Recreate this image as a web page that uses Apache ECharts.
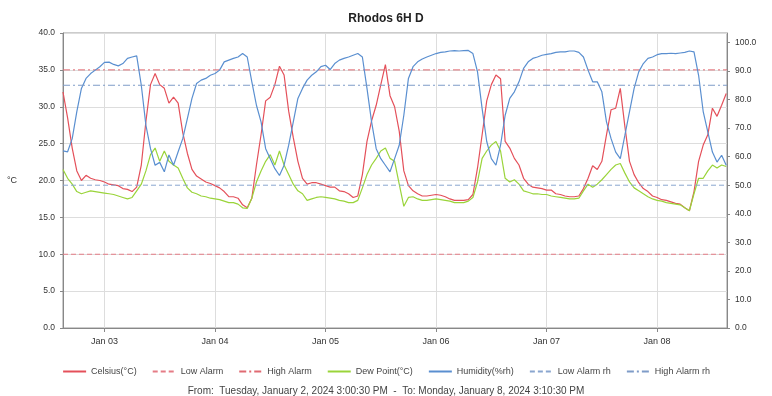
<!DOCTYPE html>
<html>
<head>
<meta charset="utf-8">
<script src="https://cdn.jsdelivr.net/npm/echarts@6/dist/echarts.min.js"></script>
<style>
  html, body { margin: 0; padding: 0; background: #fff; }
  #chart { width: 772px; height: 396px; }
</style>
</head>
<body>
<div id="chart"></div>
<script>
// readings every hour from Jan 2 2024 15:00:30
var startTime = new Date(2024, 0, 2, 15, 0, 30).getTime()
var endTime = new Date(2024, 0, 8, 15, 10, 30).getTime()
var stepMs = 3600 * 1000

var celsius = [
  32.0, 28.5, 24.4, 21.3, 20.0, 20.7, 20.3, 20.1, 20.0, 19.8,
  19.5, 19.4, 19.3, 18.9, 18.8, 18.5, 19.1, 22.1, 28.0, 33.0,
  34.5, 33.0, 32.5, 30.5, 31.3, 30.5, 26.5, 23.7, 21.5, 20.6,
  20.2, 19.8, 19.6, 19.3, 19.0, 18.5, 17.8, 17.8, 17.6, 16.7,
  16.3, 17.6, 22.1, 26.2, 30.8, 31.3, 33.0, 35.5, 34.3, 29.4,
  25.8, 22.6, 20.3, 19.5, 19.7, 19.7, 19.5, 19.3, 19.1, 19.1,
  18.6, 18.5, 18.2, 17.7, 17.9, 20.8, 25.3, 28.1, 30.2, 33.0,
  35.7, 31.5, 30.0, 26.7, 21.3, 19.3, 18.6, 18.2, 17.9, 17.9,
  18.0, 18.1, 18.0, 17.8, 17.5, 17.3, 17.3, 17.3, 17.4, 18.1,
  21.7, 26.2, 30.8, 33.0, 34.3, 33.8, 25.3, 24.4, 23.0, 22.1,
  20.3, 19.5, 19.1, 19.0, 18.9, 18.7, 18.7, 18.2, 18.1, 17.9,
  17.8, 17.8, 17.9, 18.9, 20.3, 22.0, 21.5, 22.6, 26.2, 29.6,
  29.8, 32.5, 27.3, 22.6, 20.8, 19.7, 18.9, 18.5, 17.9, 17.7,
  17.4, 17.3, 17.1, 16.9, 16.8, 16.3, 15.9, 18.5, 22.6, 24.8,
  26.2, 29.8, 28.7, 30.2, 31.8
]

var dewPoint = [
  21.5, 20.3, 19.5, 18.5, 18.2, 18.4, 18.6, 18.5, 18.4, 18.3,
  18.2, 18.1, 17.9, 17.7, 17.5, 17.7, 18.6, 19.5, 21.3, 23.5,
  24.4, 22.6, 24.0, 22.6, 22.1, 21.7, 20.3, 19.0, 18.4, 18.2,
  17.9, 17.8, 17.6, 17.5, 17.4, 17.2, 17.0, 17.0, 16.8, 16.3,
  16.2, 17.6, 19.8, 21.3, 22.6, 23.5, 22.1, 24.0, 22.1, 20.8,
  19.5, 18.6, 18.2, 17.3, 17.5, 17.7, 17.8, 17.7, 17.6, 17.5,
  17.3, 17.2, 17.0, 17.0, 17.3, 19.0, 20.8, 22.1, 23.0, 24.0,
  24.4, 23.0, 22.6, 19.5, 16.5, 17.7, 17.8, 17.5, 17.3, 17.3,
  17.4, 17.5, 17.4, 17.3, 17.2, 17.0, 17.0, 17.0, 17.2, 17.7,
  19.8, 23.0, 24.0, 24.8, 25.3, 24.0, 20.3, 19.8, 20.1, 19.5,
  18.6, 18.4, 18.2, 18.2, 18.1, 18.1, 17.9, 17.8, 17.7, 17.6,
  17.5, 17.5, 17.6, 18.6, 19.5, 19.1, 19.5, 20.1, 20.8, 21.5,
  22.1, 22.3, 21.0, 19.8, 19.0, 18.6, 18.2, 17.8, 17.5, 17.3,
  17.2, 17.0, 16.9, 16.8, 16.7, 16.3, 15.9, 18.2, 20.3, 20.3,
  21.3, 22.1, 21.7, 22.1, 21.9
]

var humidity = [
  62.0, 61.7, 66.3, 75.8, 83.9, 87.4, 89.1, 90.3, 91.5, 93.0,
  93.1, 92.3, 91.8, 92.6, 94.4, 94.9, 95.3, 85.0, 71.0, 62.8,
  57.0, 58.0, 54.7, 60.6, 57.0, 61.7, 66.3, 73.3, 80.4, 85.6,
  86.8, 87.4, 88.5, 89.1, 90.3, 93.2, 93.8, 94.4, 94.9, 96.1,
  94.9, 86.2, 78.0, 72.2, 62.8, 59.3, 55.8, 53.4, 57.0, 64.0,
  72.2, 80.4, 83.9, 86.8, 88.5, 89.7, 91.5, 92.0, 90.5, 92.6,
  93.8, 94.4, 94.9, 95.5, 96.1, 94.9, 83.9, 72.2, 62.8, 59.3,
  57.0, 54.7, 59.3, 64.0, 74.5, 87.4, 91.5, 93.2, 94.2, 94.9,
  95.5, 96.1, 96.5, 96.7, 97.0, 97.1, 97.0, 97.1, 97.2, 96.1,
  89.7, 76.8, 65.3, 59.3, 57.0, 64.0, 74.5, 80.4, 82.7, 86.2,
  90.9, 93.2, 94.4, 94.9, 95.5, 95.8, 96.1, 96.5, 96.7, 96.7,
  97.0, 97.0, 96.5, 94.9, 90.3, 86.2, 86.2, 82.7, 72.2, 66.3,
  61.6, 59.3, 67.5, 75.8, 83.9, 89.7, 92.6, 94.4, 94.9, 95.7,
  96.1, 96.1, 96.2, 96.1, 96.3, 96.5, 97.0, 96.7, 88.5, 75.8,
  68.7, 61.6, 58.1, 60.5, 57.0
]

var lowAlarm = 10
var highAlarm = 35
var lowAlarmRh = 50
var highAlarmRh = 85

var legendNames = ['Celsius(°C)', 'Low Alarm', 'High Alarm', 'Dew Point(°C)', 'Humidity(%rh)', 'Low Alarm rh', 'High Alarm rh']
var footer = 'From:  Tuesday, January 2, 2024 3:00:30 PM  -  To: Monday, January 8, 2024 3:10:30 PM'

function withTime(values) {
  return values.map(function(v, i) {
    return [startTime + i * stepMs, v]
  })
}

function flatLine(v) {
  return [[startTime, v], [endTime, v]]
}

var chart = echarts.init(document.getElementById('chart'))
var labelStyle = { color: '#333', fontSize: 8.5 }

var option = {
  animation: false,
  textStyle: { fontFamily: 'Liberation Sans, Arial, sans-serif' },
  title: [
    {
      text: 'Rhodos 6H D',
      left: 'center',
      top: 8,
      textStyle: { fontSize: 12, fontWeight: 'bold', color: '#222' }
    },
    {
      text: footer,
      left: 'center',
      top: 381,
      textStyle: { fontSize: 10, fontWeight: 'normal', color: '#444' }
    }
  ],
  legend: {
    data: legendNames,
    top: 362,
    left: 'center',
    itemWidth: 23,
    itemHeight: 8,
    itemGap: 15,
    itemStyle: { opacity: 0 },
    textStyle: { fontSize: 9, color: '#444' }
  },
  grid: {
    left: 63,
    right: 45,
    top: 33,
    bottom: 68,
    show: true,
    borderColor: '#999',
    borderWidth: 1
  },
  xAxis: {
    type: 'time',
    min: startTime,
    max: endTime,
    minInterval: 24 * stepMs,
    maxInterval: 24 * stepMs,
    axisLine: { lineStyle: { color: '#888' } },
    axisTick: { show: true, length: 4, lineStyle: { color: '#888' } },
    axisLabel: {
      color: '#333',
      fontSize: 9,
      margin: 9,
      formatter: function(v) {
        var d = new Date(v)
        return 'Jan ' + String(d.getDate()).padStart(2, '0')
      }
    },
    splitLine: { show: true, lineStyle: { color: '#ddd' } }
  },
  yAxis: [
    {
      type: 'value',
      min: 0,
      max: 40,
      interval: 5,
      name: '°C',
      nameLocation: 'middle',
      nameGap: 46,
      nameRotate: 0,
      nameTextStyle: { color: '#333', fontSize: 9 },
      axisLine: { show: true, lineStyle: { color: '#888' } },
      axisTick: { show: true, length: 3 },
      axisLabel: Object.assign({ formatter: function(v) { return v.toFixed(1) } }, labelStyle),
      splitLine: { show: true, lineStyle: { color: '#ddd' } }
    },
    {
      type: 'value',
      position: 'right',
      min: 0,
      max: 103.3,
      interval: 10,
      axisLine: { show: true, lineStyle: { color: '#888' } },
      axisTick: { show: true, length: 3 },
      axisLabel: Object.assign({ showMaxLabel: false, formatter: function(v) { return v.toFixed(1) } }, labelStyle),
      splitLine: { show: false }
    }
  ],
  series: [
    {
      name: legendNames[0],
      type: 'line',
      symbol: 'none',
      data: withTime(celsius),
      itemStyle: { color: '#e4505a' },
      lineStyle: { width: 1.2, color: '#e4505a' }
    },
    {
      name: legendNames[1],
      type: 'line',
      symbol: 'none',
      data: flatLine(lowAlarm),
      itemStyle: { color: '#e57c86' },
      lineStyle: { width: 1, color: '#e57c86', type: [5, 3] }
    },
    {
      name: legendNames[2],
      type: 'line',
      symbol: 'none',
      data: flatLine(highAlarm),
      itemStyle: { color: '#e06a72' },
      lineStyle: { width: 1, color: '#e06a72', type: [7, 3, 2, 3] }
    },
    {
      name: legendNames[3],
      type: 'line',
      symbol: 'none',
      data: withTime(dewPoint),
      itemStyle: { color: '#9ad43a' },
      lineStyle: { width: 1.2, color: '#9ad43a' }
    },
    {
      name: legendNames[4],
      type: 'line',
      symbol: 'none',
      yAxisIndex: 1,
      data: withTime(humidity),
      itemStyle: { color: '#5a8fd0' },
      lineStyle: { width: 1.2, color: '#5a8fd0' }
    },
    {
      name: legendNames[5],
      type: 'line',
      symbol: 'none',
      yAxisIndex: 1,
      data: flatLine(lowAlarmRh),
      itemStyle: { color: '#8aa6cf' },
      lineStyle: { width: 1, color: '#8aa6cf', type: [5, 3] }
    },
    {
      name: legendNames[6],
      type: 'line',
      symbol: 'none',
      yAxisIndex: 1,
      data: flatLine(highAlarmRh),
      itemStyle: { color: '#7f9cc8' },
      lineStyle: { width: 1, color: '#7f9cc8', type: [7, 3, 2, 3] }
    }
  ]
}

chart.setOption(option)
</script>
</body>
</html>
